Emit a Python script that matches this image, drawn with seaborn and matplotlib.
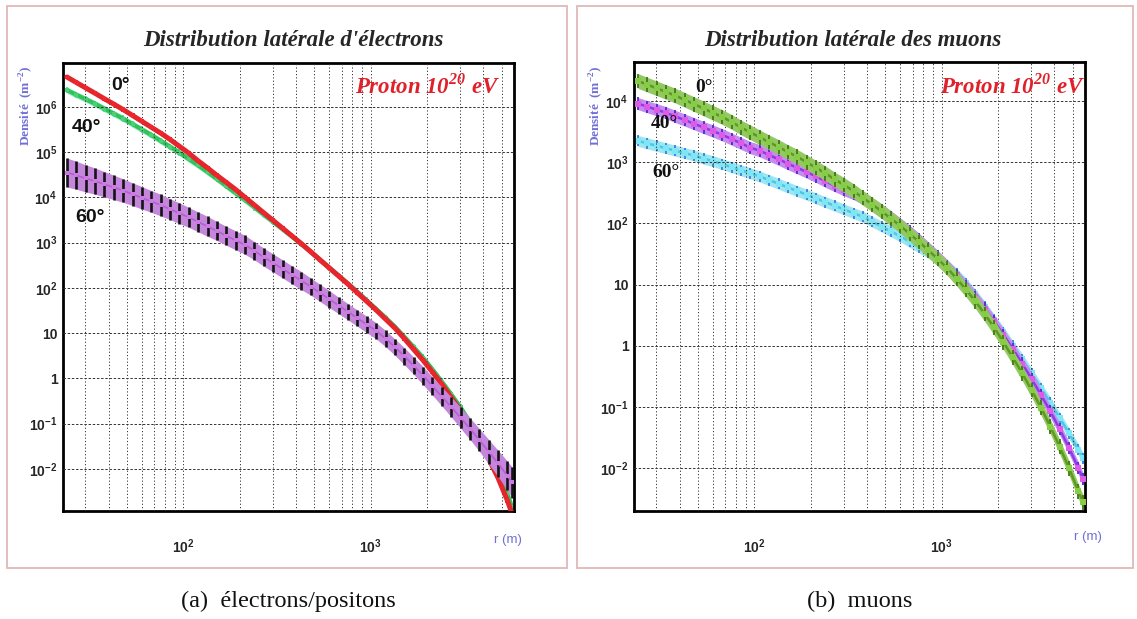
import numpy as np
import pandas as pd
import matplotlib
matplotlib.use("Agg")
import matplotlib.pyplot as plt
import seaborn as sns
from matplotlib.ticker import FixedLocator, FixedFormatter, NullFormatter
from matplotlib.patches import Rectangle

# Radial distance bins (m)
r_m = [24.0, 26.9, 30.2, 33.9, 38.0, 42.7, 47.9, 53.7, 60.3, 67.6,
       75.9, 85.1, 95.5, 107, 120, 135, 151, 170, 191, 214,
       240, 269, 302, 339, 380, 427, 479, 537, 603, 676,
       759, 851, 955, 1072, 1202, 1349, 1514, 1698, 1905, 2138,
       2399, 2692, 3020, 3388, 3802, 4266, 4786, 5370, 5690]

# log10 of electron/positron density (m^-2), zenith angles 0, 40, 60 deg
elec_0 = [6.66, 6.54, 6.42, 6.30, 6.18, 6.06, 5.94, 5.81, 5.68, 5.55,
          5.42, 5.28, 5.13, 4.98, 4.81, 4.65, 4.49, 4.33, 4.17, 4.00,
          3.83, 3.66, 3.49, 3.32, 3.15, 2.98, 2.80, 2.62, 2.44, 2.26,
          2.08, 1.89, 1.70, 1.51, 1.31, 1.11, 0.88, 0.64, 0.40, 0.14,
          -0.13, -0.42, -0.72, -1.05, -1.40, -1.78, -2.20, -2.70, -3.00]
elec_40 = [6.37, 6.27, 6.17, 6.07, 5.96, 5.85, 5.74, 5.62, 5.50, 5.38,
           5.25, 5.12, 4.99, 4.85, 4.71, 4.56, 4.41, 4.25, 4.09, 3.94,
           3.78, 3.62, 3.46, 3.30, 3.14, 2.97, 2.80, 2.62, 2.44, 2.27,
           2.09, 1.91, 1.72, 1.53, 1.34, 1.14, 0.92, 0.69, 0.46, 0.20,
           -0.07, -0.35, -0.64, -0.96, -1.30, -1.66, -2.05, -2.55, -2.85]
elec_60 = [4.55, 4.49, 4.42, 4.36, 4.29, 4.22, 4.15, 4.07, 3.99, 3.91,
           3.83, 3.74, 3.65, 3.56, 3.46, 3.36, 3.26, 3.15, 3.05, 2.95,
           2.82, 2.68, 2.55, 2.42, 2.29, 2.16, 2.03, 1.89, 1.75, 1.61,
           1.47, 1.33, 1.19, 1.05, 0.88, 0.69, 0.49, 0.28, 0.06, -0.17,
           -0.40, -0.63, -0.87, -1.11, -1.36, -1.62, -1.88, -2.15, -2.30]
# half-width of the 60 deg error bars (decades)
elec_60_err = [0.32, 0.31, 0.30, 0.29, 0.28, 0.27, 0.26, 0.25, 0.25, 0.24,
               0.24, 0.23, 0.23, 0.22, 0.22, 0.22, 0.21, 0.21, 0.21, 0.21,
               0.20, 0.20, 0.20, 0.20, 0.20, 0.20, 0.19, 0.19, 0.19, 0.18,
               0.18, 0.18, 0.18, 0.18, 0.18, 0.18, 0.19, 0.19, 0.20, 0.20,
               0.21, 0.22, 0.23, 0.24, 0.25, 0.27, 0.29, 0.32, 0.34]

# log10 of muon density (m^-2)
muon_0 = [4.33, 4.27, 4.21, 4.15, 4.09, 4.02, 3.95, 3.88, 3.81, 3.74,
          3.66, 3.57, 3.49, 3.41, 3.33, 3.25, 3.17, 3.09, 3.00, 2.91,
          2.82, 2.72, 2.63, 2.53, 2.42, 2.31, 2.20, 2.08, 1.96, 1.83,
          1.70, 1.56, 1.42, 1.27, 1.10, 0.92, 0.73, 0.52, 0.30, 0.06,
          -0.19, -0.45, -0.72, -1.01, -1.32, -1.65, -2.00, -2.38, -2.56]
muon_40 = [3.96, 3.91, 3.86, 3.81, 3.75, 3.69, 3.63, 3.57, 3.51, 3.45,
           3.38, 3.31, 3.24, 3.19, 3.12, 3.05, 2.98, 2.91, 2.84, 2.77,
           2.69, 2.62, 2.55, 2.49, 2.41, 2.32, 2.22, 2.11, 1.99, 1.87,
           1.74, 1.60, 1.46, 1.31, 1.15, 0.98, 0.80, 0.61, 0.40, 0.18,
           -0.05, -0.29, -0.54, -0.80, -1.07, -1.36, -1.67, -2.00, -2.18]
muon_60 = [3.35, 3.31, 3.27, 3.23, 3.19, 3.15, 3.11, 3.06, 3.02, 2.97,
           2.92, 2.87, 2.82, 2.77, 2.71, 2.65, 2.59, 2.53, 2.47, 2.41,
           2.35, 2.29, 2.23, 2.17, 2.11, 2.03, 1.95, 1.87, 1.79, 1.70,
           1.61, 1.52, 1.43, 1.32, 1.18, 1.02, 0.84, 0.64, 0.43, 0.22,
           0.00, -0.22, -0.45, -0.69, -0.93, -1.18, -1.43, -1.70, -1.84]

x_major = [100, 1000]
x_minor = [30, 40, 50, 60, 70, 80, 90, 200, 300, 400, 500, 600, 700, 800, 900,
           2000, 3000, 4000, 5000]
elec_ticks = [1e-2, 1e-1, 1, 10, 1e2, 1e3, 1e4, 1e5, 1e6]
elec_labels = [r"$\mathregular{10^{-2}}$", r"$\mathregular{10^{-1}}$", "1", "10",
               r"$\mathregular{10^{2}}$", r"$\mathregular{10^{3}}$", r"$\mathregular{10^{4}}$",
               r"$\mathregular{10^{5}}$", r"$\mathregular{10^{6}}$"]
muon_ticks = [1e-2, 1e-1, 1, 10, 1e2, 1e3, 1e4]
muon_labels = elec_labels[:7]

sns.set_theme(style="white")
plt.rcParams["font.family"] = ["Liberation Sans", "DejaVu Sans"]
plt.rcParams["mathtext.fontset"] = "custom"
plt.rcParams["mathtext.rm"] = "Liberation Sans"

W, H = 1137, 619
fig = plt.figure(figsize=(W / 100, H / 100), dpi=100)
fig.patch.set_facecolor("white")


def px(x, y):
    return x / W, 1 - y / H


axL = fig.add_axes([63 / W, 1 - 511 / H, 451 / W, 448 / H])
axR = fig.add_axes([634 / W, 1 - 511 / H, 451 / W, 449 / H])

r_arr = np.array(r_m)


def draw_series(ax, name, logd, dex, line_c, bar_c, face_c, band_c, lw, ms, bar_lw, z):
    logd = np.array(logd)
    dex = np.broadcast_to(np.array(dex, dtype=float), logd.shape)
    dens = 10 ** logd
    lo, hi = 10 ** (logd - dex), 10 ** (logd + dex)
    if band_c is not None:
        ax.fill_between(r_arr, lo, hi, color=band_c, lw=0, zorder=z)
    ax.vlines(r_arr, lo, hi, color=bar_c, lw=bar_lw, zorder=z + 0.1)
    df = pd.DataFrame({"r": r_arr, "density": dens, "angle": name})
    sns.lineplot(data=df, x="r", y="density", ax=ax, color=line_c, lw=lw,
                 zorder=z + 0.2, legend=False)
    ax.plot(r_arr, dens, ls="none", marker="s", ms=ms, mfc=face_c, mec=face_c,
            mew=0, zorder=z + 0.3)


for ax in (axL, axR):
    ax.set_xscale("log")
    ax.set_yscale("log")

# electrons / positrons
draw_series(axL, "40", elec_40, 0.07, "#2fc45a", "#3fd6c8", "#4fd070", "#9be8c8", 3.0, 3.0, 1.2, 2)
draw_series(axL, "0", elec_0, 0.04, "#e3262c", "#c81e24", "#f0262c", None, 3.6, 3.5, 1.0, 3)
draw_series(axL, "60", elec_60, elec_60_err, "#b65fd0", "#141414", "#cf78e6", "#c487dc", 1.2, 3.2, 1.9, 4)

# muons
draw_series(axR, "60", muon_60, 0.09, "#4cc8e4", "#3a7ee0", "#7fe6f6", "#9fe6f2", 1.8, 4.0, 1.3, 2)
draw_series(axR, "40", muon_40, 0.10, "#8c3ce6", "#4b2bd0", "#e05ae8", "#c58cf0", 1.8, 4.0, 1.3, 3)
draw_series(axR, "0", muon_0, 0.12, "#5e9a20", "#3f7a12", "#86cc44", "#94c864", 1.8, 4.0, 1.3, 4)

grid_kw = dict(color="#333333", lw=0.7)
for ax, ylim, ticks, labels in ((axL, (10 ** -2.93, 10 ** 6.97), elec_ticks, elec_labels),
                                (axR, (10 ** -2.70, 10 ** 4.64), muon_ticks, muon_labels)):
    ax.set_xlim(10 ** 1.359, 10 ** 3.765)
    ax.set_ylim(*ylim)
    ax.set_xlabel("")
    ax.set_ylabel("")
    ax.xaxis.set_major_locator(FixedLocator(x_major))
    ax.xaxis.set_minor_locator(FixedLocator(x_minor))
    ax.xaxis.set_major_formatter(FixedFormatter([r"$\mathregular{10^{2}}$", r"$\mathregular{10^{3}}$"]))
    ax.xaxis.set_minor_formatter(NullFormatter())
    ax.yaxis.set_major_locator(FixedLocator(ticks))
    ax.yaxis.set_major_formatter(FixedFormatter(labels))
    lo_dec = int(np.floor(np.log10(ylim[0])))
    hi_dec = int(np.ceil(np.log10(ylim[1])))
    ax.yaxis.set_minor_locator(FixedLocator([m * 10.0 ** k for k in range(lo_dec, hi_dec)
                                             for m in range(2, 10)]))
    ax.yaxis.set_minor_formatter(NullFormatter())
    ax.grid(True, which="both", axis="x", ls=(0, (1.2, 2.2)), **grid_kw)
    ax.grid(True, which="major", axis="y", ls=(0, (2.5, 1.8)), **grid_kw)
    ax.set_axisbelow(False)
    ax.tick_params(axis="both", which="major", direction="in", length=10, width=1.6,
                   color="black", top=False, right=False, labelsize=10)
    ax.tick_params(axis="both", which="minor", direction="in", length=5, width=1.2,
                   color="black", top=False, right=False)
    ax.tick_params(axis="x", which="major", pad=19)
    ax.tick_params(axis="y", which="major", pad=4)
    for lab in ax.get_xticklabels() + ax.get_yticklabels():
        lab.set_fontweight("bold")
    for sp in ax.spines.values():
        sp.set_color("black")
        sp.set_linewidth(2.0)
    ax.set_facecolor("white")

# panel frames
for x0, x1 in ((7, 567), (577, 1133)):
    fig.patches.append(Rectangle(px(x0, 568), (x1 - x0) / W, (568 - 6) / H,
                                 transform=fig.transFigure, fill=False,
                                 edgecolor="#e2b8b8", lw=1.3, zorder=0))

serif = ["Liberation Serif", "DejaVu Serif"]
fig.text(*px(293, 40), "Distribution latérale d'électrons", ha="center", va="center",
         family=serif, weight="bold", style="italic", size=16.5)
fig.text(*px(853, 40), "Distribution latérale des muons", ha="center", va="center",
         family=serif, weight="bold", style="italic", size=16.5)

label_blue = "#6f6fd6"
for xp in (26, 596):
    fig.text(*px(xp, 66), r"Densité  (m$^{\mathregular{-2}}$)", rotation=90, ha="center",
             va="top", family=serif, weight="bold", size=9.5, color=label_blue)
fig.text(*px(508, 540), "r (m)", ha="center", va="center", size=9.5, color=label_blue)
fig.text(*px(1088, 537), "r (m)", ha="center", va="center", size=9.5, color=label_blue)

proton_kw = dict(ha="center", va="center", family=serif, weight="bold", style="italic",
                 size=16.5, color="#e0202a")
fig.text(*px(428, 86), r"Proton 10$^{\mathregular{20}}$ eV", **proton_kw)
fig.text(*px(1013, 86), r"Proton 10$^{\mathregular{20}}$ eV", **proton_kw)

angle_kw = dict(ha="center", va="center", weight="bold", size=14, color="#111111")
fig.text(*px(121, 85), "0°", **angle_kw)
fig.text(*px(87, 127), "40°", **angle_kw)
fig.text(*px(90, 217), "60°", **angle_kw)
angle_kw_r = dict(angle_kw, family=serif)
fig.text(*px(704, 88), "0°", **angle_kw_r)
fig.text(*px(664, 123), "40°", **angle_kw_r)
fig.text(*px(666, 173), "60°", **angle_kw_r)

fig.text(*px(288, 601), "(a)  électrons/positons", ha="center", va="center",
         family=serif, size=17.5, color="#111111")
fig.text(*px(860, 601), "(b)  muons", ha="center", va="center",
         family=serif, size=17.5, color="#111111")

fig.savefig("out.png", dpi=100, facecolor="white")
